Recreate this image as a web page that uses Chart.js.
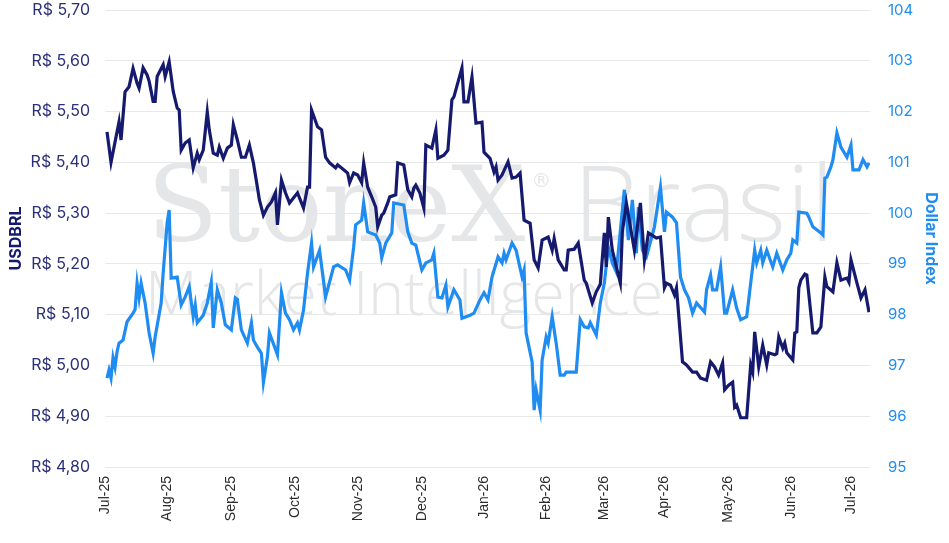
<!DOCTYPE html>
<html>
<head>
<meta charset="utf-8">
<script src="https://cdn.jsdelivr.net/npm/chart.js@4"></script>
<style>
  html, body { margin: 0; padding: 0; background: #fff; }
  #wrap { width: 949px; height: 543px; position: relative; }
</style>
</head>
<body>
<div id="wrap"><canvas id="fxChart"></canvas></div>
<script>
// day index along the x axis
const usdDays = [-3,-1,3,4,6,8,10,12,13,15,17,18,20,21,22,25,26,28,30,32,33,34,36,38,40,42,43,45,47,48,50,52,53,55,57,59,60,62,64,66,68,70,72,73,75,77,79,81,82,84,86,88,92,93,95,97,98,99,102,104,106,108,111,112,114,117,118,120,122,124,125,127,129,131,132,134,135,137,138,141,142,145,147,149,150,151,153,155,156,159,161,162,165,167,169,170,174,175,177,179,181,184,185,188,190,191,192,194,197,199,201,203,205,208,210,212,214,217,219,220,222,225,226,227,230,232,235,236,239,241,243,245,246,247,249,251,253,254,256,260,263,265,267,271,273,275,276,278,280,281,284,286,289,291,293,296,298,300,302,304,305,307,309,310,311,313,316,318,319,320,322,324,326,327,330,331,332,334,335,336,339,340,341,342,343,345,346,349,351,353,355,356,359,361,363,366,367,368,371,373,375,377];
const usdValues = [5.46,5.40,5.48,5.444,5.539,5.549,5.585,5.556,5.546,5.586,5.572,5.56,5.52,5.52,5.569,5.592,5.569,5.598,5.54,5.507,5.503,5.424,5.438,5.444,5.389,5.418,5.405,5.424,5.499,5.464,5.418,5.414,5.43,5.408,5.428,5.434,5.474,5.444,5.41,5.41,5.434,5.399,5.351,5.326,5.296,5.312,5.322,5.34,5.277,5.365,5.34,5.32,5.34,5.33,5.31,5.351,5.351,5.503,5.47,5.464,5.41,5.399,5.389,5.395,5.389,5.379,5.36,5.379,5.375,5.36,5.399,5.351,5.332,5.312,5.273,5.296,5.30,5.32,5.332,5.336,5.399,5.395,5.346,5.332,5.349,5.355,5.34,5.31,5.434,5.428,5.464,5.408,5.414,5.424,5.523,5.529,5.586,5.519,5.519,5.568,5.477,5.479,5.42,5.408,5.381,5.391,5.365,5.375,5.401,5.369,5.371,5.379,5.286,5.28,5.208,5.192,5.247,5.253,5.227,5.25,5.208,5.188,5.188,5.227,5.229,5.241,5.168,5.162,5.123,5.145,5.16,5.261,5.194,5.292,5.227,5.194,5.162,5.263,5.32,5.227,5.32,5.208,5.261,5.251,5.253,5.153,5.162,5.158,5.139,5.153,5.007,5.001,4.987,4.987,4.975,4.971,5.007,4.997,4.981,5.005,4.952,4.961,4.967,4.918,4.922,4.897,4.897,5.001,4.987,5.066,4.997,5.04,5.001,5.025,5.021,5.023,5.056,5.034,5.044,5.025,5.011,5.064,5.066,5.153,5.168,5.18,5.178,5.064,5.064,5.076,5.174,5.155,5.145,5.202,5.168,5.172,5.164,5.208,5.162,5.133,5.149,5.105];

const dxyDays = [-3,-2,-1,0,1,2,3,5,7,10,11,12,13,14,16,18,20,21,24,25,27,28,29,32,34,36,38,40,41,42,45,47,49,50,52,54,56,59,61,62,64,67,69,70,72,74,75,77,78,82,84,86,88,90,92,93,95,97,99,100,103,106,110,112,116,118,120,121,124,125,127,131,133,134,136,139,140,145,147,149,151,154,156,159,160,162,164,166,167,170,173,174,178,180,183,185,187,189,192,194,195,196,199,201,204,205,206,209,210,211,213,214,216,217,219,221,223,225,226,231,233,235,237,238,241,243,245,247,249,251,255,257,259,261,262,264,266,270,273,275,276,279,281,283,285,287,289,291,295,296,298,299,301,303,305,306,309,311,313,316,318,320,321,323,324,326,329,331,334,336,338,339,341,342,346,347,349,353,354,355,356,358,359,361,363,366,368,369,372,374,376,377];
const dxyValues = [96.75,96.91,96.75,97.15,96.97,97.27,97.44,97.50,97.86,98.03,98.10,98.62,98.33,98.62,98.23,97.64,97.24,97.56,98.23,98.82,99.81,100.06,98.72,98.74,98.19,98.35,98.55,97.96,98.19,97.84,97.99,98.23,98.64,97.74,98.49,98.23,97.80,97.70,98.33,98.30,97.70,97.44,97.84,97.50,97.36,97.24,96.67,97.17,97.64,97.21,98.43,98.03,97.90,97.70,97.84,97.70,98.09,98.82,99.41,98.94,99.27,98.35,98.94,98.98,98.88,98.68,99.33,99.77,99.86,100.20,99.63,99.57,99.41,99.12,99.41,99.61,100.20,100.16,99.63,99.41,99.37,98.88,99.02,99.08,99.21,98.35,98.33,98.58,98.15,98.49,98.29,97.93,97.99,98.03,98.29,98.43,98.29,98.74,99.14,99.02,99.21,99.08,99.41,99.27,98.74,98.88,97.64,97.07,96.12,96.52,96.12,97.11,97.56,97.44,97.96,97.44,96.81,96.81,96.87,96.87,97.90,97.76,97.74,97.84,97.60,98.23,98.62,99.33,99.02,98.84,100.46,99.47,100.26,99.21,100.12,99.27,99.14,99.73,100.51,99.63,100.02,99.92,99.81,98.74,98.49,98.33,98.03,98.23,98.05,98.49,98.78,98.49,98.49,98.94,98.03,98.03,98.49,98.13,97.90,97.96,98.62,99.27,99.02,99.27,99.02,99.27,98.94,99.21,98.88,99.08,99.21,99.47,99.41,100.02,100.00,99.92,99.73,99.61,99.57,100.69,100.71,100.91,101.05,101.58,101.30,101.10,101.34,100.85,100.85,101.05,100.91,100.99];

// month ticks on the same day index, with their labels
const monthTicks = [-4,27,59,91,122,154,185,216,245,275,307,338,368];
const monthLabels = ['Jul-25','Aug-25','Sep-25','Oct-25','Nov-25','Dec-25','Jan-26','Feb-26','Mar-26','Apr-26','May-26','Jun-26','Jul-26'];

const NAVY = '#151a6e';
const BLUE = '#1f8cf2';

const watermark = {
    id: 'watermark',
    beforeDatasetsDraw(chart) {
        const ctx = chart.ctx;
        ctx.save();
        ctx.fillStyle = '#e5e6e8';
        ctx.textBaseline = 'alphabetic';
        ctx.font = '104px "DejaVu Serif", serif';
        ctx.fillText('StoneX', 147, 241);
        const w = ctx.measureText('StoneX').width;
        ctx.font = '20px "DejaVu Sans", sans-serif';
        ctx.fillText('®', 147 + w + 6, 187);
        ctx.font = '300 106px "Open Sans", Roboto, sans-serif';
        ctx.fillText('Brasil', 573, 241);
        ctx.font = '300 61px "Open Sans", Roboto, sans-serif';
        ctx.fillText('Market Intelligence', 145, 315);
        ctx.restore();
    }
};

// drop the half-label padding Chart.js adds above and below the y axes
function noEdgePadding(scale) {
    scale.paddingTop = 0;
    scale.paddingBottom = 0;
}

const ctx = document.getElementById('fxChart').getContext('2d');
const fxChart = new Chart(ctx, {
    type: 'line',
    data: {
        datasets: [{
            label: 'USDBRL',
            data: usdDays.map((d, i) => ({ x: d, y: usdValues[i] })),
            borderColor: NAVY,
            borderWidth: 3.2,
            pointRadius: 0,
            tension: 0,
            yAxisID: 'y'
        }, {
            label: 'Dollar Index',
            data: dxyDays.map((d, i) => ({ x: d, y: dxyValues[i] })),
            borderColor: BLUE,
            borderWidth: 3.2,
            pointRadius: 0,
            tension: 0,
            yAxisID: 'y1'
        }]
    },
    options: {
        responsive: true,
        maintainAspectRatio: false,
        animation: false,
        layout: { padding: { top: 10, left: 0, right: 0, bottom: 0 } },
        plugins: {
            legend: { display: false },
            tooltip: { enabled: false }
        },
        scales: {
            x: {
                type: 'linear',
                min: -4,
                max: 377.5,
                grid: { display: false },
                border: { display: false },
                afterBuildTicks: function(scale) {
                    scale.ticks = monthTicks.map(v => ({ value: v }));
                },
                afterFit: function(scale) {
                    scale.height = 76;
                    scale.paddingLeft = 0;
                    scale.paddingRight = 0;
                },
                ticks: {
                    autoSkip: false,
                    minRotation: 90,
                    maxRotation: 90,
                    padding: 1,
                    color: '#2b2b2b',
                    font: { family: '"Liberation Sans", Arial, sans-serif', size: 14 },
                    callback: function(v) {
                        const i = monthTicks.indexOf(v);
                        return i >= 0 ? monthLabels[i] : '';
                    }
                }
            },
            y: {
                position: 'left',
                min: 4.8,
                max: 5.7,
                afterFit: function(scale) {
                    scale.width = 105;
                    noEdgePadding(scale);
                },
                grid: { color: '#e8e8e8', lineWidth: 1, drawTicks: false },
                border: { display: false },
                title: {
                    display: true,
                    text: 'USDBRL',
                    color: NAVY,
                    font: { family: 'Inter, "Liberation Sans", sans-serif', size: 16, weight: 'bold' },
                    padding: { top: 7, bottom: 0 }
                },
                ticks: {
                    stepSize: 0.1,
                    padding: 15,
                    color: '#2a2f78',
                    font: { family: 'Inter, "Liberation Sans", sans-serif', size: 16 },
                    callback: v => 'R$ ' + v.toFixed(2).replace('.', ',')
                }
            },
            y1: {
                position: 'right',
                min: 95,
                max: 104,
                afterFit: function(scale) {
                    scale.width = 79;
                    noEdgePadding(scale);
                },
                grid: { drawOnChartArea: false, drawTicks: false },
                border: { display: false },
                title: {
                    display: true,
                    text: 'Dollar Index',
                    color: BLUE,
                    font: { family: 'Inter, "Liberation Sans", sans-serif', size: 16, weight: 'bold' },
                    padding: { top: 9, bottom: 0 }
                },
                ticks: {
                    stepSize: 1,
                    padding: 18,
                    color: BLUE,
                    font: { family: 'Inter, "Liberation Sans", sans-serif', size: 15 }
                }
            }
        }
    },
    plugins: [watermark]
});
</script>
</body>
</html>
